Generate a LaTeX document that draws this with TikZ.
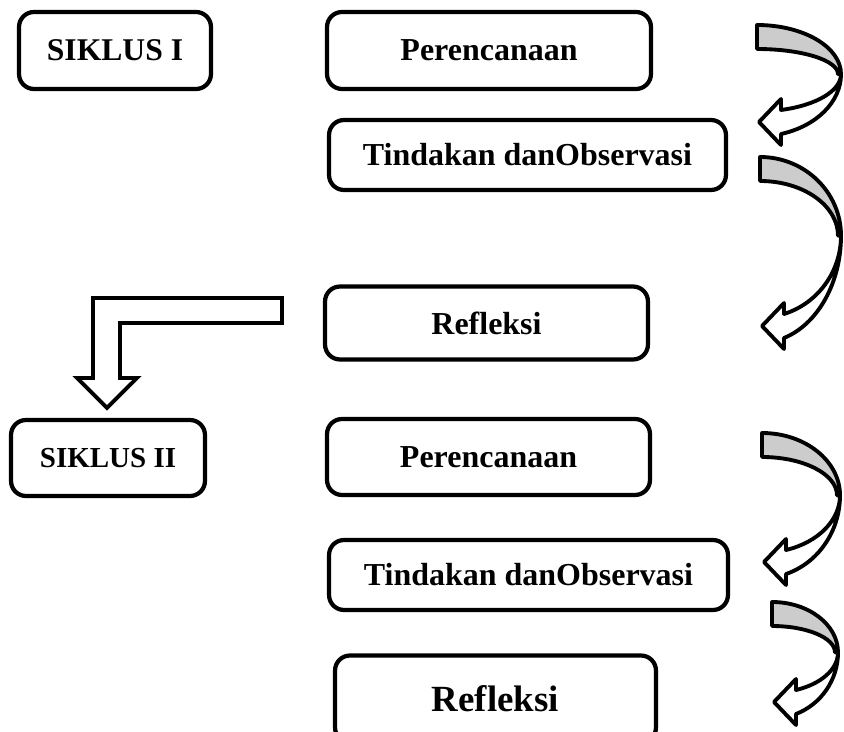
\documentclass[tikz,border=0pt]{standalone}
\usepackage{fontspec}
\setmainfont{Liberation Serif}
\usetikzlibrary{calc,positioning}
\definecolor{CycleGrey}{HTML}{cccccc}
% curved block arrow: left, top, right, bottom (pixel units)
\newcommand{\cyclearrow}[4]{%
  \pgfmathsetmacro{\cyYm}{#2+0.41*(#4-#2)}%
  \pgfmathsetmacro{\cyRx}{#3-#1}%
  \pgfmathsetmacro{\cyRxi}{#3-#1-3}%
  \pgfmathsetmacro{\cyAng}{acos(24/\cyRx)}%
  \pgfmathsetmacro{\cyRyo}{\cyYm-#2}%
  \pgfmathsetmacro{\cyRyi}{\cyYm-#2-24}%
  \pgfmathsetmacro{\cyRyu}{(#4-35-\cyYm)/sin(\cyAng)}%
  \pgfmathsetmacro{\cyRyl}{(#4-11-\cyYm)/sin(\cyAng)}%
  \filldraw[cycleback] (#1,#2)%
    arc[start angle=-90, end angle=0, x radius=\cyRx, y radius=\cyRyo]%
    -- ++(-3,0)%
    arc[start angle=0, end angle=-90, x radius=\cyRxi, y radius=\cyRyi]%
    -- cycle;%
  \filldraw[cyclefront] (#3,\cyYm)%
    arc[start angle=0, end angle=\cyAng, x radius=\cyRx, y radius=\cyRyu]%
    -- (#1+24,#4-46) -- (#1+2,#4-23) -- (#1+24,#4) -- (#1+24,#4-11)%
    arc[start angle=\cyAng, end angle=0, x radius=\cyRx, y radius=\cyRyl]%
    -- cycle;%
}

\begin{document}
\begin{tikzpicture}[x=0.02cm, y=-0.02cm]
  \tikzset{%
    stage/.style={draw=black, line width=2.4pt, rounded corners=0.3cm,%
      fill=white, inner sep=0pt, font=\bfseries\fontsize{18.2}{22}\selectfont},%
    cycleback/.style={fill=CycleGrey, draw=black, line width=2.2pt, line join=round},%
    cyclefront/.style={fill=white, draw=black, line width=2.2pt, line join=round},%
    bendarrow/.style={fill=white, draw=black, line width=2.2pt, line join=miter}%
  }%
  \useasboundingbox (0,0) rectangle (844,732);%

  %
  % Siklus I
  %
  \node[stage, minimum width=3.84cm, minimum height=1.54cm,%
    font=\bfseries\fontsize{18}{22}\selectfont] (siklus1) at (115,50.5) {SIKLUS I};%
  \node[stage, minimum width=6.48cm, minimum height=1.54cm] (rencana1) at (489,50.5) {Perencanaan};%
  \node[stage, minimum width=7.94cm, minimum height=1.40cm] (tindakan1) at (527.5,155) {Tindakan danObservasi};%
  \node[stage, minimum width=6.46cm, minimum height=1.46cm] (refleksi1) at (486.5,323) {Refleksi};%

  %
  % Siklus II
  %
  \node[stage, minimum width=3.88cm, minimum height=1.52cm,%
    font=\bfseries\fontsize{16.5}{20}\selectfont] (siklus2) at (108,458) {SIKLUS II};%
  \node[stage, minimum width=6.46cm, minimum height=1.52cm] (rencana2) at (488.5,457) {Perencanaan};%
  \node[stage, minimum width=7.98cm, minimum height=1.40cm] (tindakan2) at (528.5,575) {Tindakan danObservasi};%
  \node[stage, minimum width=6.42cm, minimum height=1.74cm,%
    font=\bfseries\fontsize{21}{24}\selectfont] (refleksi2) at (495.5,699) {Refleksi};%

  %
  % Panah siklus
  %
  \cyclearrow{757}{25}{841}{145}%
  \cyclearrow{760}{157}{841}{349}%
  \cyclearrow{762}{433}{840}{585}%
  \cyclearrow{772}{602}{838}{725}%

  % Panah ke siklus berikutnya
  \coordinate (bend tip) at ($(siklus2.north)+(-1,-10)$);%
  \draw[bendarrow] (282,298) -- (93,298) -- (93,378) -- (77,378) -- (bend tip)%
    -- (137,378) -- (120,378) -- (120,323) -- (282,323) -- cycle;%
\end{tikzpicture}
\end{document}
